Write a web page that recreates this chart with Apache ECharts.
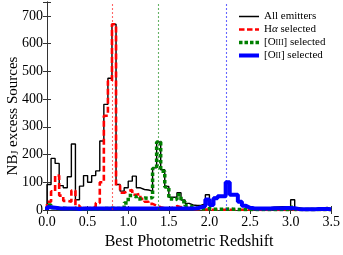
<!DOCTYPE html>
<html><head><meta charset="utf-8">
<script src="https://cdn.jsdelivr.net/npm/echarts@6/dist/echarts.min.js"></script>
<style>html,body{margin:0;padding:0;background:#fff}#c{width:343px;height:255px}</style>
</head><body><div id="c"></div>
<script>
const binEdges = [0.00,0.05,0.10,0.15,0.20,0.25,0.30,0.35,0.40,0.45,0.50,0.55,0.60,0.65,0.70,0.75,0.80,0.85,0.90,0.95,
1.00,1.05,1.10,1.15,1.20,1.25,1.30,1.35,1.40,1.45,1.50,1.55,1.60,1.65,1.70,1.75,1.80,1.85,1.90,1.95,
2.00,2.05,2.10,2.15,2.20,2.25,2.30,2.35,2.40,2.45,2.50,2.55,2.60,2.65,2.70,2.75,2.80,2.85,2.90,2.95,
3.00,3.05,3.10,3.15,3.20,3.25,3.30,3.35,3.40,3.45,3.50];
const allEmitters = [92,186,168,88,80,120,238,37,86,124,100,124,141,249,381,475,670,92,68,80,
104,122,80,74,72,68,152,245,145,85,46,46,62,36,24,18,16,17,22,55,
24,45,52,52,102,58,57,32,17,9,7,6,6,7,8,10,11,12,12,13,
37,8,5,5,6,5,6,7,9,4];
const haSelected = [30,67,124,52,33,30,70,16,8,6,7,12,25,100,340,465,670,88,62,68,
72,55,58,40,30,22,16,10,6,5,8,14,10,12,6,4,3,2,2,1,
1,1,1,1,1,1,1,1,1,1,1,1,0,0,0,0,0,0,0,0,
0,0,0,0,0,0,0,0,0,0];
const o3Selected = [18,8,5,6,5,4,6,3,4,3,3,4,4,5,5,6,6,5,8,25,
52,48,40,43,42,45,150,245,140,83,40,38,55,30,16,10,6,5,4,5,
3,3,3,3,4,3,2,2,2,2,2,2,2,2,2,2,2,2,2,2,
10,2,2,2,2,2,2,2,2,2];
const o2Selected = [10,8,6,5,5,5,5,4,5,5,5,5,5,5,5,5,5,5,5,5,
5,5,5,5,5,5,5,5,5,5,5,5,5,5,5,5,6,10,14,38,
18,42,50,50,100,55,55,30,15,8,6,5,5,5,5,6,6,6,7,7,
6,4,3,3,3,3,4,4,4,3];
const xTicks = [0.0,0.5,1.0,1.5,2.0,2.5,3.0,3.5];
const yTicks = [0,100,200,300,400,500,600,700];
const lineZ = {ha:0.80, o3:1.37, o2:2.21};

function stepData(vals){
  const d=[[binEdges[0],0]];
  for(let i=0;i<vals.length;i++) d.push([binEdges[i],vals[i]]);
  d.push([binEdges[vals.length],vals[vals.length-1]]);
  return d;
}
const F='Liberation Serif';
const box='M0,0h0.01v0.01h-0.01z M19.99,4.99h0.01v0.01h-0.01z ';
const icons={
  black:'path://'+box+'M0,1.8h20v1.4h-20z',
  red:'path://'+box+'M0,1.2h5.5v2.6h-5.5z M8,1.2h5.5v2.6h-5.5z M16,1.2h4v2.6h-4z',
  green:'path://'+box+'M0,0.75h3.5v3.5h-3.5z M5.5,0.75h3.5v3.5h-3.5z M11,0.75h3.5v3.5h-3.5z M16.5,0.75h3.5v3.5h-3.5z',
  blue:'path://'+box+'M0,0.5h20v4h-20z'
};
const chart=echarts.init(document.getElementById('c'),null,{renderer:'canvas'});
const frame={show:true,lineStyle:{color:'#333',width:1}};
const tick={show:true,inside:true,length:4,lineStyle:{color:'#333'}};
function vline(x,color){
  return {silent:true,symbol:'none',label:{show:false},
    lineStyle:{color:color,type:[2,2],width:1.1,opacity:0.6},data:[{xAxis:x}]};
}
chart.setOption({
  animation:false,
  grid:{left:47,right:10,top:2,bottom:33},
  xAxis:[{type:'value',min:0,max:3.5,interval:0.5,axisLine:frame,axisTick:tick,splitLine:{show:false},
    axisLabel:{color:'#000',fontFamily:F,fontSize:14,margin:5,formatter:v=>xTicks.includes(+v.toFixed(2))?v.toFixed(1):''},
    name:'Best Photometric Redshift',nameLocation:'middle',nameGap:24,
    nameTextStyle:{color:'#000',fontFamily:F,fontSize:16}},
    {type:'value',position:'top',min:0,max:3.5,interval:0.5,axisLine:frame,axisTick:tick,splitLine:{show:false},axisLabel:{show:false}}],
  yAxis:[{type:'value',min:0,max:750,interval:100,axisLine:frame,axisTick:tick,splitLine:{show:false},
    axisLabel:{color:'#000',fontFamily:F,fontSize:14,margin:4,formatter:v=>yTicks.includes(v)?String(v):''}},
    {type:'value',position:'right',min:0,max:750,interval:100,axisLine:frame,axisTick:tick,splitLine:{show:false},axisLabel:{show:false}}],
  graphic:[{type:'text',x:13,y:116,rotation:Math.PI/2,
    style:{text:'{a|NB}{s|J}{a| excess Sources}',align:'center',verticalAlign:'middle',
      rich:{a:{fontFamily:F,fontSize:15,fill:'#000',lineHeight:15,verticalAlign:'middle'},
            s:{fontFamily:F,fontSize:10,fill:'#000',lineHeight:8,verticalAlign:'bottom'}}}}],
  legend:{orient:'vertical',left:234,top:6,itemWidth:20,itemHeight:5,itemGap:2,
    textStyle:{fontFamily:F,fontSize:11,lineHeight:11,color:'#000',
      rich:{sc:{fontFamily:F,fontSize:8,color:'#000'},i:{fontFamily:F,fontSize:11,fontStyle:'italic',color:'#000'}}},
    formatter:function(n){
      if(n==='[OIII] selected') return '[O{sc|III}] selected';
      if(n==='[OII] selected') return '[O{sc|II}] selected';
      if(n==='Hα selected') return 'H{i|α} selected';
      return n;},
    data:[{name:'All emitters',icon:icons.black},{name:'Hα selected',icon:icons.red},
          {name:'[OIII] selected',icon:icons.green},{name:'[OII] selected',icon:icons.blue}]},
  series:[
    {name:'All emitters',type:'line',step:'end',symbol:'none',data:stepData(allEmitters),
      lineStyle:{color:'#000',width:1.4},itemStyle:{color:'#000'}},
    {name:'Hα selected',type:'line',step:'end',symbol:'none',data:stepData(haSelected),
      lineStyle:{color:'#ff0000',width:2.6,type:[6,3]},itemStyle:{color:'#ff0000'},markLine:vline(lineZ.ha,'#ff0000')},
    {name:'[OIII] selected',type:'line',step:'end',symbol:'none',data:stepData(o3Selected),
      lineStyle:{color:'#008000',width:3.5,type:[3.5,2.5]},itemStyle:{color:'#008000'},markLine:vline(lineZ.o3,'#008000')},
    {name:'[OII] selected',type:'line',step:'end',symbol:'none',data:stepData(o2Selected),
      lineStyle:{color:'#0000ff',width:4},itemStyle:{color:'#0000ff'},markLine:vline(lineZ.o2,'#0000ff')}
  ]
});
</script></body></html>
